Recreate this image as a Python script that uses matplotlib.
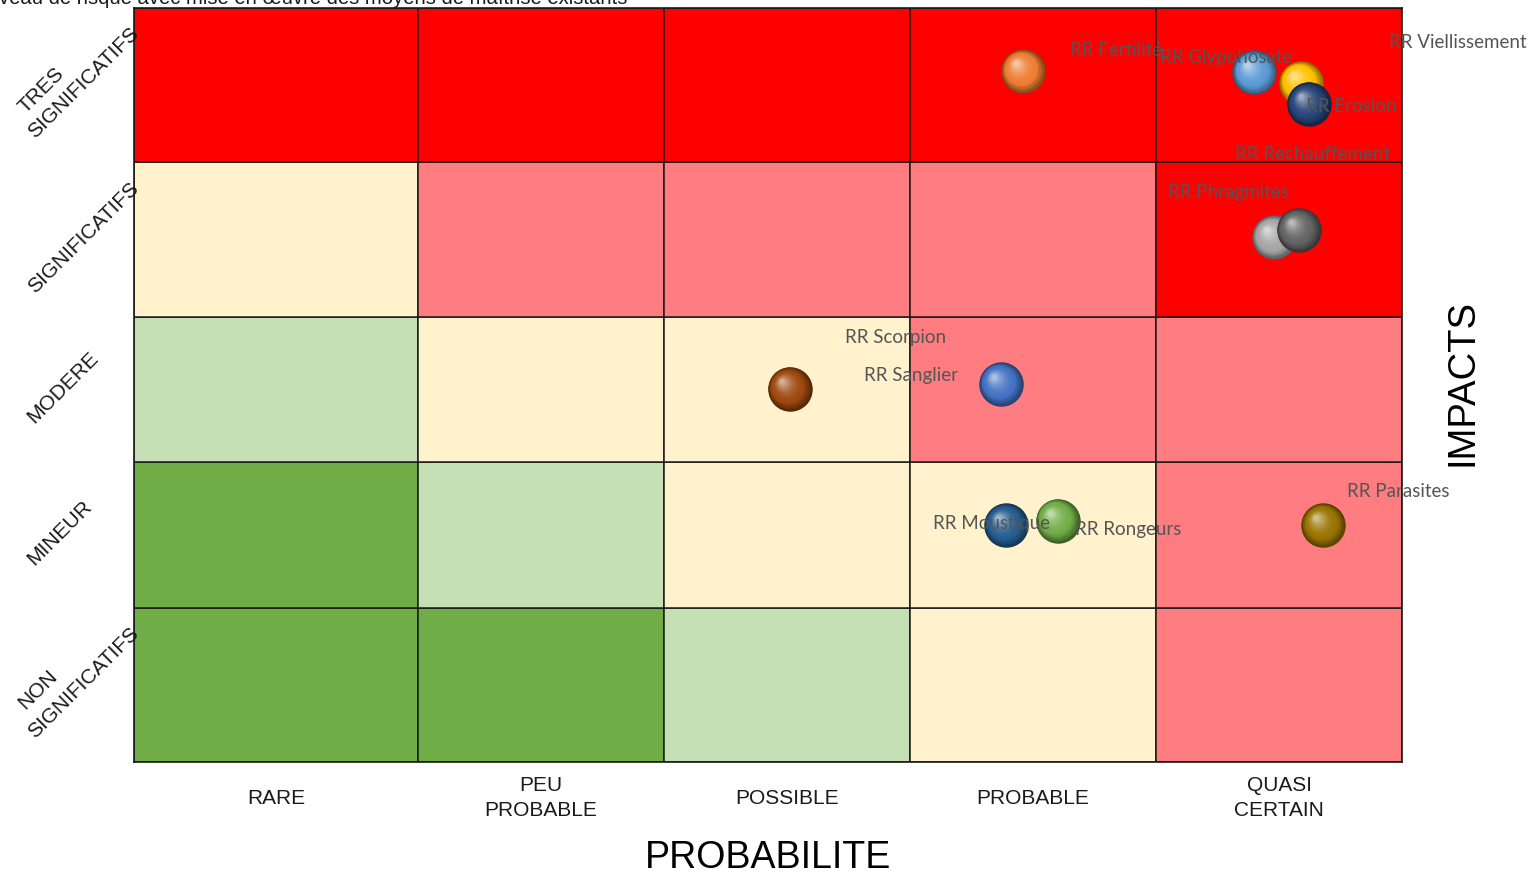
import matplotlib
matplotlib.use("Agg")
import matplotlib.pyplot as plt
import matplotlib.transforms as mtransforms
from matplotlib.patches import Rectangle
from matplotlib.colors import to_rgb
import numpy as np

# ---------------- data ----------------
prob_labels = ["RARE", "PEU\nPROBABLE", "POSSIBLE", "PROBABLE", "QUASI\nCERTAIN"]
impact_labels = ["NON\nSIGNIFICATIFS", "MINEUR", "MODERE", "SIGNIFICATIFS", "TRES\nSIGNIFICATIFS"]  # bottom -> top

# risk level of each cell (rows bottom -> top, columns RARE -> QUASI CERTAIN)
risk_levels = [
    [0, 0, 1, 2, 3],
    [0, 1, 2, 2, 3],
    [1, 2, 2, 3, 3],
    [2, 3, 3, 3, 4],
    [4, 4, 4, 4, 4],
]

risk_names = ["RR Glypohosate", "RR Fertilité", "RR Rechauffement", "RR Viellissement",
              "RR Sanglier", "RR Rongeurs", "RR Moustique", "RR Scorpion",
              "RR Phragmites", "RR Parasites", "RR Erosion"]
risk_prob = [4.90, 3.96, 4.98, 5.09, 3.87, 4.10, 3.89, 3.01, 5.08, 5.18, 5.12]
risk_impact = [5.10, 5.11, 4.00, 5.03, 3.02, 2.11, 2.08, 2.99, 4.05, 2.08, 4.89]

# ---------------- style ----------------
level_colors = ["#70AD47", "#C5E0B4", "#FFF2CC", "#FF7C80", "#FF0000"]
bubble_colors = ["#5B9BD5", "#ED7D31", "#A5A5A5", "#FFC000", "#4472C4", "#70AD47",
                 "#255E91", "#9E480E", "#636363", "#997300", "#264478"]
# label offsets from bubble centre (pixels, x right / y down)
label_offsets = [(-94, -15), (47, -20), (-39, -83), (88, -40), (-137, -9), (17, 9),
                 (-73, -2), (55, -51), (-131, -37), (24, -34), (-3, 3)]
x_edges = [0.345, 1.5, 2.5, 3.5, 4.5, 5.5]
y_edges = [0.5, 1.53, 2.5, 3.47, 4.5, 5.53]

W, H = 1533, 876
fig = plt.figure(figsize=(W / 100, H / 100), dpi=100)
ax = fig.add_axes([134 / W, (H - 762) / H, 1268 / W, 754 / H])
ax.set_xlim(x_edges[0], x_edges[-1])
ax.set_ylim(y_edges[0], y_edges[-1])

for r in range(5):
    for c in range(5):
        ax.add_patch(Rectangle((x_edges[c], y_edges[r]), x_edges[c + 1] - x_edges[c],
                               y_edges[r + 1] - y_edges[r],
                               facecolor=level_colors[risk_levels[r][c]],
                               edgecolor="#1a1a1a", linewidth=1.1, zorder=1))
for s in ax.spines.values():
    s.set_linewidth(1.2)
    s.set_color("#1a1a1a")
    s.set_zorder(3)
ax.set_xticks([])
ax.set_yticks([])

sans = ["Liberation Sans", "DejaVu Sans"]
# x category labels
ycat = (762 - 798) / 754
for c, lab in enumerate(prob_labels):
    xc = (x_edges[c] + x_edges[c + 1]) / 2
    ax.text(xc, ycat, lab, transform=mtransforms.blended_transform_factory(ax.transData, ax.transAxes),
            ha="center", va="center", fontsize=15, family=sans, color="#1a1a1a",
            linespacing=1.4, clip_on=False)
# y category labels (rotated 45); an extra first line sits left of / below the last line's box
xl = (24 - 134) / 1268
ytr = mtransforms.blended_transform_factory(ax.transAxes, ax.transData)
for r, lab in enumerate(impact_labels):
    yc = (y_edges[r] + y_edges[r + 1]) / 2
    lines = lab.split("\n")
    n = len(lines)
    for j, line in enumerate(lines):
        k = n - 1 - j  # 0 for last line
        tr = mtransforms.offset_copy(ytr, fig=fig, x=-9 * k * 0.72, y=(2 - 7 * k) * 0.72, units="points")
        ax.text(xl, yc, line, transform=tr, ha="left", va="center", rotation=45, fontsize=15,
                family=sans, color="#1a1a1a", clip_on=False)

ax.text(0.5, (762 - 858) / 754, "PROBABILITE", transform=ax.transAxes, ha="center", va="center",
        fontsize=27, family=sans, color="black", clip_on=False)
ax.text((1462 - 134) / 1268, (762 - 383) / 754, "IMPACTS", transform=ax.transAxes, ha="center",
        va="center", rotation=90, fontsize=27.5, family=sans, color="black", clip_on=False)
fig.text(-20 / W, 1 - 3.5 / H, "Niveau de risque avec mise en œuvre des moyens de maîtrise existants",
         ha="left", va="baseline", fontsize=14.6, family=sans, color="#1a1a1a")


def sphere(x, y, color, k, r_pt=16.0, n=18):
    base = np.array(to_rgb(color))
    dark = base * 0.55
    light = base + (1 - base) * 0.55
    for i in range(n):
        t = i / (n - 1)
        rad = r_pt * (1 - 0.88 * t)
        off = 0.34 * r_pt * t
        if t < 0.3:
            col = dark + (base - dark) * (t / 0.3)
        else:
            col = base + (light - base) * ((t - 0.3) / 0.7) ** 1.8
        tr = mtransforms.offset_copy(ax.transData, fig=fig, x=-off, y=off, units="points")
        ax.scatter([x], [y], s=(2 * rad) ** 2, color=np.clip(col, 0, 1), transform=tr,
                   linewidths=0, zorder=5 + k * 0.01 + i * 0.0005, clip_on=False)


for k, (px, py, col) in enumerate(zip(risk_prob, risk_impact, bubble_colors)):
    sphere(px, py, col, k)

for k, (name, px, py) in enumerate(zip(risk_names, risk_prob, risk_impact)):
    dx, dy = label_offsets[k]
    ax.annotate(name, xy=(px, py), xytext=(dx * 0.72, -dy * 0.72), textcoords="offset points",
                ha="left", va="center", fontsize=13.5, family=["Lato", "DejaVu Sans"],
                color="#555555", zorder=10, annotation_clip=False)

ax.set_xlim(x_edges[0], x_edges[-1])
ax.set_ylim(y_edges[0], y_edges[-1])
fig.savefig("out.png", dpi=100)
